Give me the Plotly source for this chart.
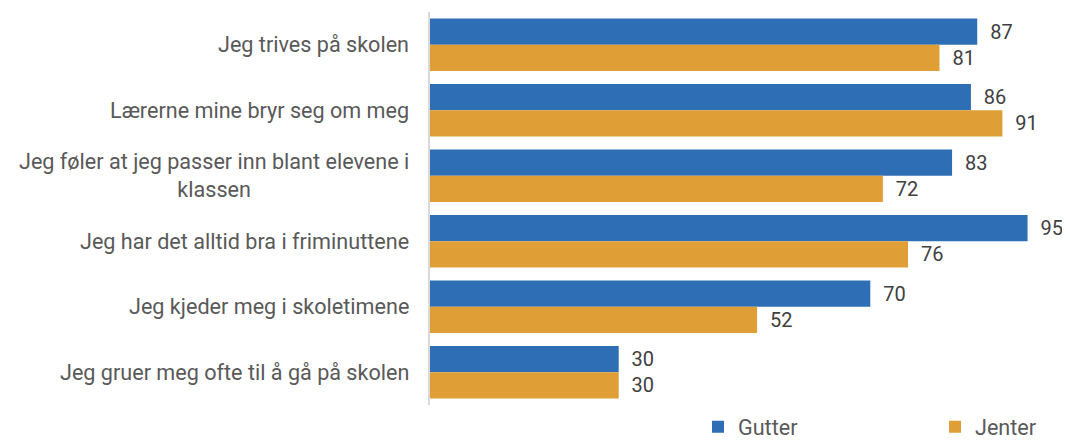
import plotly.graph_objects as go

categories = [
    "Jeg trives på skolen",
    "Lærerne mine bryr seg om meg",
    "Jeg føler at jeg passer inn blant elevene i<br>klassen",
    "Jeg har det alltid bra i friminuttene",
    "Jeg kjeder meg i skoletimene",
    "Jeg gruer meg ofte til å gå på skolen",
]
gutter = [87, 86, 83, 95, 70, 30]
jenter = [81, 91, 72, 76, 52, 30]

BLUE = "#2E6EB5"
ORANGE = "#E09F36"
FONT = "Roboto"

W, H = 1062, 435
L, R, T, B = 422, 10, 4, 38
PW = W - L - R

fig = go.Figure()
fig.add_trace(go.Bar(
    y=categories, x=gutter, name="Gutter", orientation="h",
    marker=dict(color=BLUE, line=dict(width=0)),
    texttemplate="\u00a0\u00a0%{x}", textposition="outside",
    textfont=dict(size=20, color="#404040", family=FONT), cliponaxis=False,
    legend="legend",
))
fig.add_trace(go.Bar(
    y=categories, x=jenter, name="Jenter", orientation="h",
    marker=dict(color=ORANGE, line=dict(width=0)),
    texttemplate="\u00a0\u00a0%{x}", textposition="outside",
    textfont=dict(size=20, color="#404040", family=FONT), cliponaxis=False,
    legend="legend2",
))

for c in categories:
    fig.add_annotation(
        x=0, xref="paper", y=c, yref="y", text=c, showarrow=False,
        xanchor="right", align="center", xshift=-19.5,
        font=dict(size=21.6, color="#595959", family=FONT),
    )

leg_common = dict(
    orientation="h", yanchor="top", y=-0.003,
    font=dict(size=21.6, color="#595959", family=FONT),
    itemwidth=30, bgcolor="rgba(0,0,0,0)",
)

fig.update_layout(
    width=W, height=H,
    margin=dict(l=L, r=R, t=T, b=B, autoexpand=False),
    paper_bgcolor="white", plot_bgcolor="white",
    barmode="group", bargap=0.2, bargroupgap=0,
    font=dict(family=FONT, size=20, color="#595959"),
    showlegend=True,
    legend=dict(x=(690 - L) / PW, xanchor="left", **leg_common),
    legend2=dict(x=(927 - L) / PW, xanchor="left", **leg_common),
)
fig.update_xaxes(range=[0, PW / 6.29], showgrid=False, zeroline=False,
                 showticklabels=False, showline=False)
fig.update_yaxes(autorange="reversed", showticklabels=False, showgrid=False,
                 showline=True, linecolor="#D9D9D9", linewidth=2, ticks="")

fig.write_html("out.html")
